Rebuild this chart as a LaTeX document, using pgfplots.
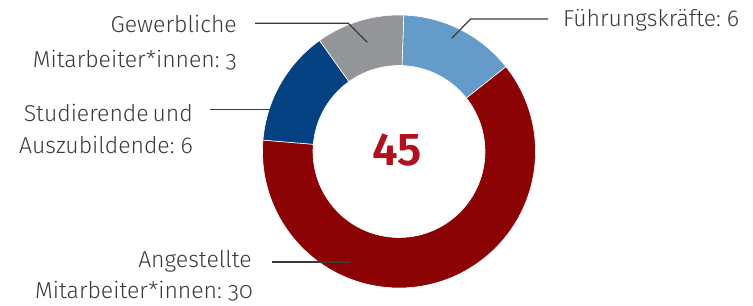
\documentclass[border=0pt]{standalone}
\usepackage{pgfplots}
\pgfplotsset{compat=1.18}
\usetikzlibrary{calc}
\usepackage{fontspec}
\setmainfont{Fira Sans Light}[Numbers=OldStyle,BoldFont=Fira Sans SemiBold,WordSpace=0.6]
\definecolor{cFk}{HTML}{659BC9}
\definecolor{cAn}{HTML}{8B0304}
\definecolor{cSt}{HTML}{034182}
\definecolor{cGw}{HTML}{939598}
\definecolor{cNum}{HTML}{B0111E}
\definecolor{cTxt}{HTML}{3A3A3A}
\def\cx{399}\def\cy{154.5}\def\Ro{136.5}\def\Ri{86}\def\Tot{45}\def\St{88}
% segment from cumulative value #1 to #2 (segment sizes as drawn in the picture)
\newcommand\seg[3]{%
  \fill[#3,draw=white,line width=0.6bp]
   ($(axis cs:\cx,\cy)+({\St-360*#1/\Tot}:\Ro bp)$)
   arc[start angle={\St-360*#1/\Tot},end angle={\St-360*#2/\Tot},radius=\Ro bp]
   -- ($(axis cs:\cx,\cy)+({\St-360*#2/\Tot}:\Ri bp)$)
   arc[start angle={\St-360*#2/\Tot},end angle={\St-360*#1/\Tot},radius=\Ri bp]
   -- cycle;}
\begin{document}
\begin{tikzpicture}
\begin{axis}[width=753bp,height=306bp,scale only axis,
  xmin=0,xmax=753,ymin=0,ymax=306,hide axis,clip=false]
% drawn shares: Fuehrungskraefte 6.2, Angestellte 27.9, Studierende 6.2, Gewerbliche 4.7 (of 45)
\seg{0}{6.2}{cFk}
\seg{6.2}{34.1}{cAn}
\seg{34.1}{40.3}{cSt}
\seg{40.3}{45}{cGw}
\node[font=\fontsize{46bp}{46bp}\selectfont\bfseries\addfontfeatures{Numbers=Lining},text=cNum] at (axis cs:397,156) {45};
\begin{scope}[draw=cTxt,line width=1.2bp]
\draw (axis cs:451.7,267.7) -- (axis cs:470.7,287) -- (axis cs:548,287);
\draw (axis cs:367.3,263.7) -- (axis cs:348.3,282.7) -- (axis cs:255,282.7);
\draw (axis cs:289.3,196.5) -- (axis cs:210,196.5);
\draw (axis cs:350,44) -- (axis cs:271.7,44);
\end{scope}
\begin{scope}[every node/.style={font=\fontsize{23bp}{27bp}\selectfont,text=cTxt,inner sep=0pt}]
\node[anchor=base west] at (axis cs:563,279.3) {Führungskräfte: 6};
\node[anchor=base east] at (axis cs:237,273) {Gewerbliche};
\node[anchor=base east] at (axis cs:237,238) {Mitarbeiter*innen: 3};
\node[anchor=base east] at (axis cs:193,184.3) {Studierende und};
\node[anchor=base east] at (axis cs:193,152.7) {Auszubildende: 6};
\node[anchor=base east] at (axis cs:252,38.3) {Angestellte};
\node[anchor=base east] at (axis cs:253,7.7) {Mitarbeiter*innen: 30};
\end{scope}
\end{axis}
\pgfresetboundingbox
\path (current axis.south west) rectangle (current axis.north east);
\end{tikzpicture}
\end{document}
